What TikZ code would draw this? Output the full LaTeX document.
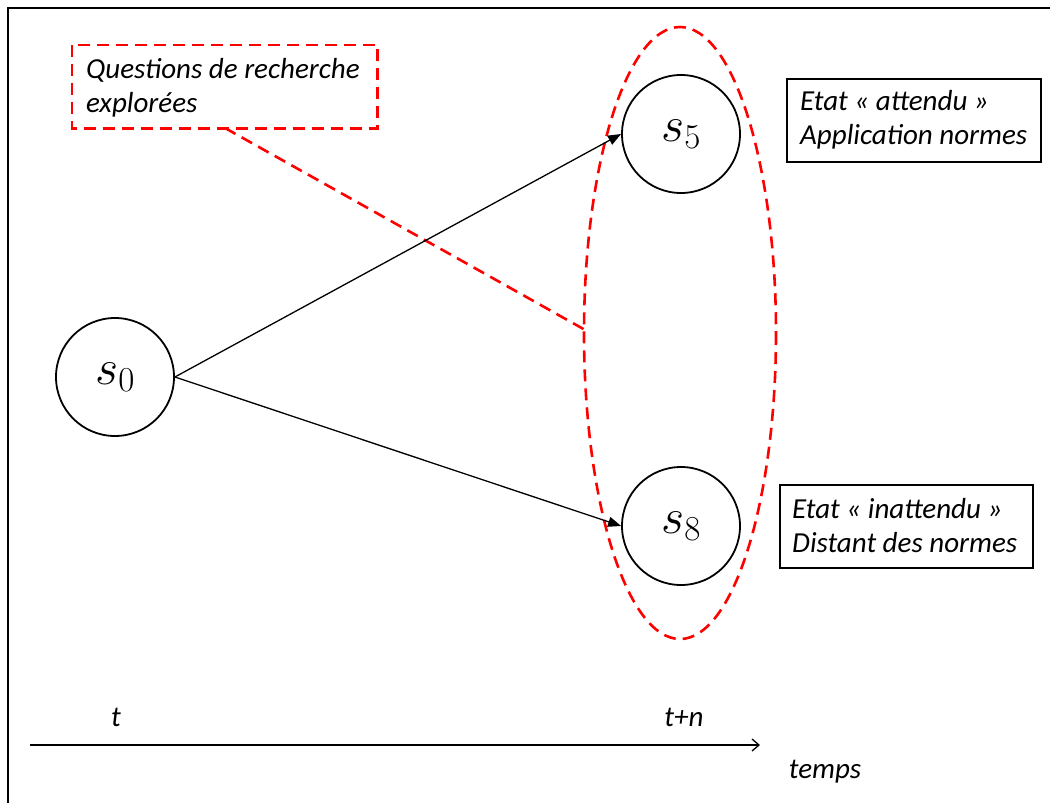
\RequirePackage{fix-cm}
\documentclass[tikz,border=0pt]{standalone}
\usepackage{fontspec}
\setmainfont{Carlito}
\usetikzlibrary{arrows.meta}
\begin{document}
\begin{tikzpicture}[x=1pt,y=-1pt,
  state/.style={draw,circle,line width=1.8pt,minimum size=118pt,inner sep=0pt,font=\fontsize{50}{50}\selectfont},
  framebox/.style={draw,line width=2.4pt,inner sep=0pt,anchor=north west},
  lbl/.style={font=\fontsize{29}{34}\selectfont\itshape,inner sep=0pt},
  reddash/.style={draw=red,line width=2.6pt,dash pattern=on 12pt off 7pt},
  link/.style={line width=1.3pt,-{Triangle[length=13pt,width=10pt]}},
]
\useasboundingbox (0,0) rectangle (1050,803);
\fill[white] (0,0) rectangle (1050,803);
\draw[line width=2.8pt] (8,803) -- (8,8) -- (1050,8);

% ellipse
\draw[reddash] (680,333) ellipse [x radius=96, y radius=306];
\coordinate (ellpt) at (587,331);

% callout box
\node[minimum width=305pt,minimum height=83pt,anchor=north west,inner sep=0pt] (qbox) at (72,45) {};
\draw[reddash] (qbox.north west) rectangle (qbox.south east);
\node[lbl,align=left,anchor=west] (qtext) at (86,88) {Questions de recherche\\explorées};
\coordinate (qfoot) at (225,128);
\draw[reddash] (qfoot) -- (ellpt);

% states
\node[state] (s0) at (115,377) {$s_0$};
\node[state] (s5) at (681,134) {$s_5$};
\node[state] (s8) at (681,526) {$s_8$};

\draw[link] (s0.east) -- (s5.west);
\draw[link] (s0.east) -- (s8.west);

% info boxes
\node[framebox,minimum width=254pt,minimum height=83pt] (b5) at (786,78) {};
\node[lbl,align=left,anchor=west] (b5t) at (800,120) {Etat « attendu »\\Application normes};
\node[framebox,minimum width=253pt,minimum height=83pt] (b8) at (779,484) {};
\node[lbl,align=left,anchor=west] (b8t) at (792,526) {Etat « inattendu »\\Distant des normes};

% time axis
\coordinate (ax0) at (30,745);
\coordinate (ax1) at (760,745);
\draw[line width=1.3pt,-{Straight Barb[length=7pt,width=12pt]}] (ax0) -- (ax1);
\node[lbl] (t) at (116,717) {t};
\node[lbl] (tn) at (684,717) {t+n};
\node[lbl] (temps) at (825,772) {temps};
\end{tikzpicture}
\end{document}
